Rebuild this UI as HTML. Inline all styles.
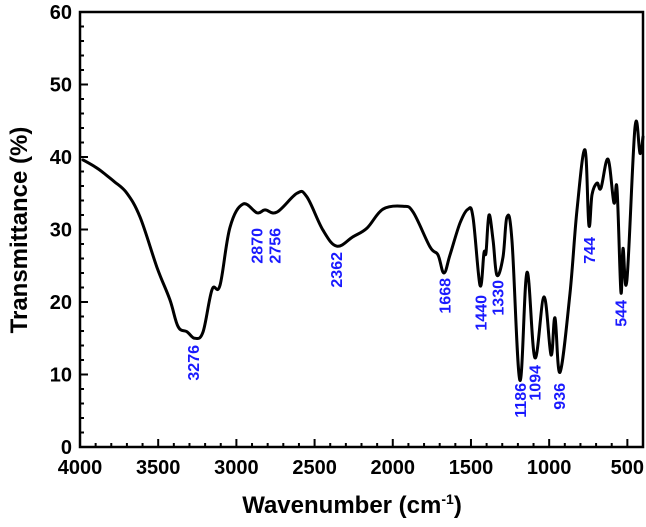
<!DOCTYPE html>
<html><head><meta charset="utf-8"><style>
html,body{margin:0;padding:0;background:#fff;}
svg{display:block;font-family:"Liberation Sans",Arial,sans-serif;}
</style></head><body>
<svg id="chart" width="646" height="527" viewBox="0 0 646 527" xmlns="http://www.w3.org/2000/svg"></svg>
<script>
const wavenumbers = [3981,3900,3850,3780,3700,3616,3508,3425,3373,3316,3265,3213,3156,3105,3041,2958,2868,2817,2740,2612,2549,2446,2357,2255,2165,2063,1935,1870,1762,1711,1673,1634,1570,1519,1487,1442,1417,1404,1385,1359,1334,1295,1270,1238,1187,1142,1091,1033,988,963,931,867,822,771,746,726,694,669,624,586,566,541,528,503,451,419,400];
const transmittance = [39.6,38.6,37.8,36.6,35.0,31.7,24.8,20.3,16.6,15.9,15.0,15.9,21.7,22.3,30.3,33.5,32.3,32.7,32.4,35.0,34.5,29.9,27.7,29.0,30.2,32.8,33.2,32.4,27.6,26.5,24.0,26.5,30.9,32.8,31.7,22.3,26.8,26.8,32.0,28.6,23.7,26.2,31.7,28.6,9.2,24.1,12.3,20.7,12.7,17.8,10.3,21.2,32.7,41.0,30.6,34.8,36.4,35.7,39.7,33.7,35.6,21.4,27.4,23.0,44.1,40.5,42.8];
const xTicks = [4000,3500,3000,2500,2000,1500,1000,500];
const yTicks = [0,10,20,30,40,50,60];
const peakLabels = ["3276","2870","2756","2362","1668","1440","1330","1186","1094","936","744","544"];
const peakPos = [3276,2870,2756,2362,1668,1440,1330,1186,1094,936,744,544];
const peakTop = [345,228,228,252,278,295,280,383,365,383,237,300];

const L=80,R=643,T=12,B=447;
const X0=4000,X1=400,Y0=0,Y1=60;
const sx=v=>L+(X0-v)/(X0-X1)*(R-L);
const sy=v=>B-(v-Y0)/(Y1-Y0)*(B-T);
const NS="http://www.w3.org/2000/svg";
const svg=document.getElementById('chart');
function mk(tag,attrs,parent){const e=document.createElementNS(NS,tag);for(const k in attrs)e.setAttribute(k,attrs[k]);(parent||svg).appendChild(e);return e;}

// curve (smoothed Catmull-Rom)
const pts=wavenumbers.map((w,i)=>[sx(w),sy(transmittance[i])]);
let d="M"+pts[0][0].toFixed(1)+","+pts[0][1].toFixed(1);
const k=0.18;
for(let i=0;i<pts.length-1;i++){
  const p0=pts[Math.max(0,i-1)],p1=pts[i],p2=pts[i+1],p3=pts[Math.min(pts.length-1,i+2)];
  const c1=[p1[0]+(p2[0]-p0[0])*k,p1[1]+(p2[1]-p0[1])*k];
  const c2=[p2[0]-(p3[0]-p1[0])*k,p2[1]-(p3[1]-p1[1])*k];
  d+="C"+c1[0].toFixed(1)+","+c1[1].toFixed(1)+" "+c2[0].toFixed(1)+","+c2[1].toFixed(1)+" "+p2[0].toFixed(1)+","+p2[1].toFixed(1);
}
const curve=mk('path',{d:d,fill:'none',stroke:'#000','stroke-width':3,'stroke-linejoin':'round','stroke-linecap':'round'});



// frame
const frame=mk('rect',{x:L,y:T,width:R-L,height:B-T,fill:'none',stroke:'#000','stroke-width':2.5});



// x ticks
for(let v=4000;v>=400;v-=100){
  const major=v%500===0;
  const t=mk('line',{x1:sx(v),x2:sx(v),y1:B,y2:B-(major?8:4),stroke:'#000','stroke-width':2});
  
  
}
xTicks.forEach(v=>{
  const t=mk('text',{x:sx(v),y:474,'text-anchor':'middle','font-size':20,'font-weight':'bold'});
  t.textContent=v;
  
  
});
// y ticks
for(let v=0;v<=60;v+=2){
  const major=v%10===0;
  const t=mk('line',{x1:L,x2:L+(major?8:4),y1:sy(v),y2:sy(v),stroke:'#000','stroke-width':2});
  
  
}
yTicks.forEach(v=>{
  const t=mk('text',{x:72,y:sy(v)+7,'text-anchor':'end','font-size':20,'font-weight':'bold'});
  t.textContent=v;
  
  
});
// peak labels
peakLabels.forEach((s,i)=>{
  const x=sx(peakPos[i])+6,y=peakTop[i];
  const t=mk('text',{x:x,y:y,'text-anchor':'end','font-size':16,'font-weight':'bold',fill:'#1a1aff',transform:`rotate(-90 ${x} ${y})`});
  t.textContent=s;
  
  
});
// titles
const xt=mk('text',{x:352,y:513,'text-anchor':'middle','font-size':24,'font-weight':'bold'});
xt.innerHTML='Wavenumber (cm<tspan dy="-9" font-size="14">-1</tspan><tspan dy="9">)</tspan>';


const yt=mk('text',{x:27,y:230,'text-anchor':'middle','font-size':24,'font-weight':'bold',transform:'rotate(-90 27 230)'});
yt.textContent='Transmittance (%)';


</script>
</body></html>
